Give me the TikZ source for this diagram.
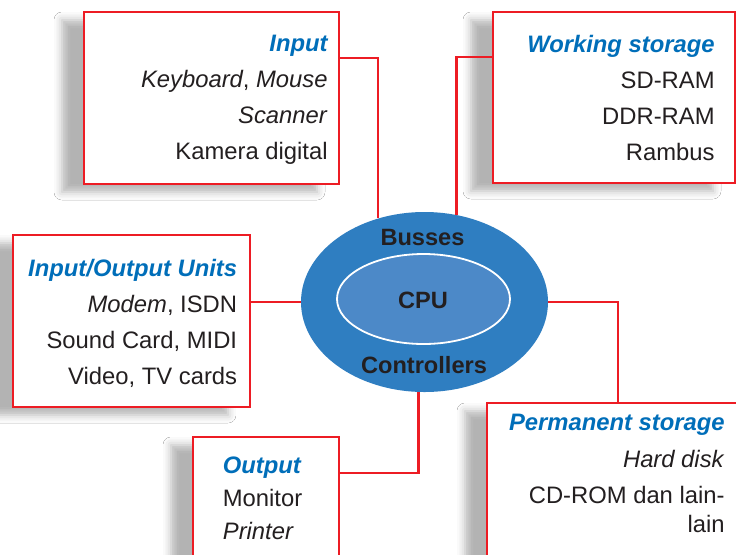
\documentclass[tikz,border=0pt]{standalone}
\usepackage{fontspec}
\setmainfont{Liberation Sans}
\usetikzlibrary{shapes.geometric,shadows.blur}

\definecolor{boxred}{RGB}{237,28,36}
\definecolor{headblue}{RGB}{0,110,185}
\definecolor{busblue}{RGB}{47,126,193}
\definecolor{cpublue}{RGB}{76,137,200}
\definecolor{inktext}{RGB}{35,31,32}

\tikzset{
  unitbox/.style={rectangle, draw=boxred, line width=1.4pt, fill=white, inner sep=0pt,
    blur shadow={shadow xshift=-11pt, shadow yshift=-4pt, shadow blur radius=4pt, shadow opacity=30}},
  unittext/.style={inner sep=0pt, text=inktext, font=\fontsize{11.9}{18}\selectfont},
  link/.style={draw=boxred, line width=1.4pt},
  hublabel/.style={inner sep=0pt, anchor=base, text=inktext, font=\fontsize{11.8}{14}\selectfont\bfseries},
}
\newcommand{\unithead}[1]{\textcolor{headblue}{\bfseries\itshape #1}}

\begin{document}
\begin{tikzpicture}[x=0.5pt,y=-0.5pt]
	\path[use as bounding box, fill=white] (0,0) rectangle (736,554);
	% boxes
	\node[unitbox, minimum width=127.5pt, minimum height=86pt] (inbox) at (211.5,98) {};
	\node[unitbox, minimum width=121pt, minimum height=85.5pt] (wsbox) at (614,97.5) {};
	\node[unitbox, minimum width=118.5pt, minimum height=86pt] (iobox) at (131.5,321) {};
	\node[unitbox, minimum width=73pt, minimum height=86pt] (outbox) at (266,523) {};
	\node[unitbox, minimum width=136.5pt, minimum height=86pt] (pmbox) at (623.5,489) {};
	% box texts
	\node[unittext, anchor=north east, align=right] (intext) at (328,35)
		{\unithead{Input}\\ \textit{Keyboard}, \textit{Mouse}\\ \textit{Scanner}\\ Kamera digital};
	\node[unittext, anchor=north east, align=right] (wstext) at (715,35)
		{\unithead{Working storage}\\ SD-RAM\\ DDR-RAM\\ Rambus};
	\node[unittext, anchor=north east, align=right] (iotext) at (237.5,259)
		{\unithead{Input/Output Units}\\ \textit{Modem}, ISDN\\ Sound Card, MIDI\\ Video, TV cards};
	\node[unittext, anchor=north west, align=left] (outtext) at (222.5,456)
		{\unithead{Output}\\[-1.5pt] Monitor\\[-1.5pt] \textit{Printer}};
	\node[unittext, anchor=north east, align=right] (pmtext) at (725,414)
		{\unithead{Permanent storage}\\[0.5pt] \textit{Hard disk}\\ CD-ROM dan lain-\\[-3.5pt] lain};
	% bus and cpu
	\node[ellipse, fill=busblue, minimum width=123.5pt, minimum height=90pt] (bus) at (424.5,302) {};
	\node[ellipse, fill=cpublue, draw=white, line width=0.9pt, minimum width=86.5pt, minimum height=45pt] (cpu) at (423.5,299) {};
	\node[hublabel] (busses) at (422.5,245) {Busses};
	\node[hublabel] (cpulabel) at (423,308) {CPU};
	\node[hublabel] (controllers) at (424,373) {Controllers};
	% links
	\draw[link] ([yshift=20pt]inbox.east) -| (bus.119.8);
	\draw[link] ([yshift=20.25pt]wsbox.west) -| (bus.70.7);
	\draw[link] (iobox.east |- bus.west) -- (bus.west);
	\draw[link] (bus.east) -| ([xshift=-2.75pt]pmbox.north);
	\draw[link] ([yshift=25pt]outbox.east) -| (bus.266.5);
\end{tikzpicture}
\end{document}
